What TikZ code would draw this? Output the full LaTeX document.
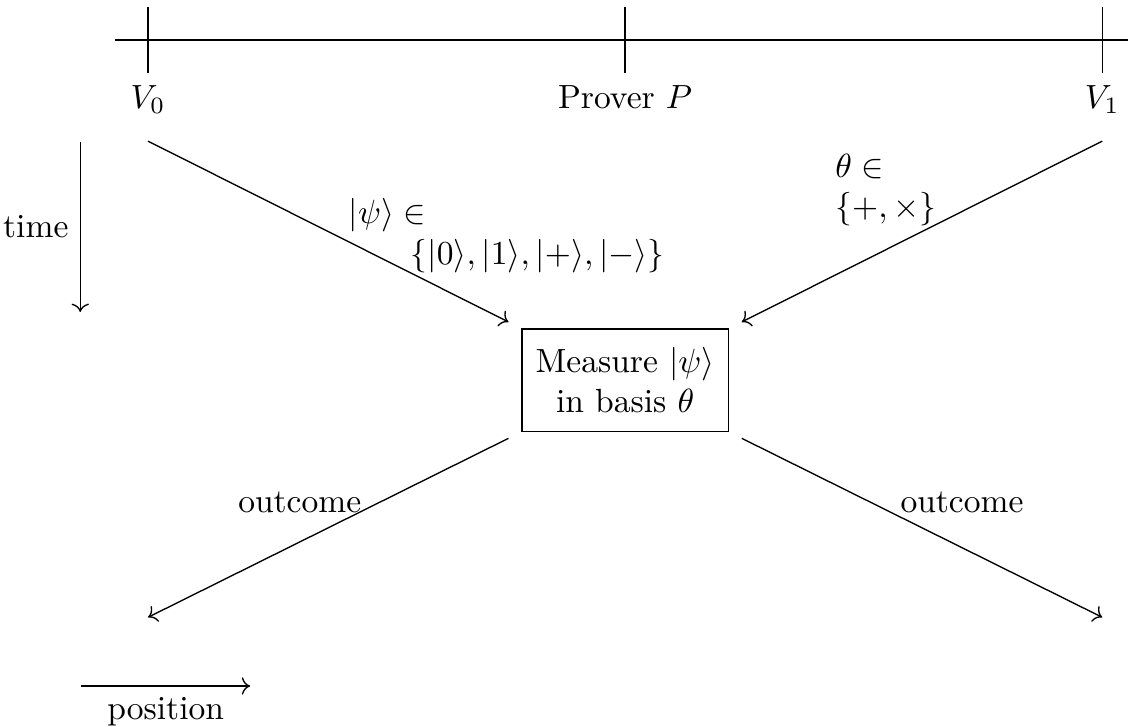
\documentclass[tikz,border=0pt]{standalone}
\usepackage{amsmath}
\usepackage{tikz}
\usetikzlibrary{arrows.meta, positioning, calc}
\tikzset{
  party/.style={anchor=north, font=\normalsize},
  measbox/.style={rectangle, draw, align=center,
    minimum width=2.16cm, minimum height=1.07cm},
  lbl/.style={align=left, anchor=west},
  arrow/.style={->},
  line/.style={thin}
}

\begin{document}
\begin{tikzpicture}
  \useasboundingbox (-1.551,0.419) rectangle (10.27,-7.19);

  % Timeline
  \draw[line] (-0.35,0) -- (10.35,0);
  \foreach \x/\nm in {0/v0, 5/prv, 10/v1} {
    \coordinate (\nm) at (\x,0);
    \draw[line] ($(\nm)+(0,0.35)$) -- ($(\nm)+(0,-0.35)$);
  }

  % Nodes
  \node[party] (lv0) at (0,-0.35) {$V_0$};
  \node[party] (lprv) at (5,-0.35) {Prover $P$};
  \node[party] (lv1) at (10,-0.35) {$V_1$};
  \node[measbox] (meas) at (5,-3.565) {Measure $|\psi\rangle$\\in basis $\theta$};

  \coordinate (s0) at (0,-1.06);
  \coordinate (s1) at (10,-1.06);
  \coordinate (e0) at (0,-6.05);
  \coordinate (e1) at (10,-6.05);

  % Paths
  \draw[arrow, shorten >=4.3pt] (s0) -- (meas.north west);
  \draw[arrow, shorten >=4.3pt] (s1) -- (meas.north east);
  \draw[arrow, shorten <=4.3pt] (meas.south west) -- (e0);
  \draw[arrow, shorten <=4.3pt] (meas.south east) -- (e1);

  % Labels
  \node[lbl] (qlbl) at (1.98,-2.05) {$|\psi\rangle \in$\\\hspace*{0.65cm}$\{|0\rangle, |1\rangle, |+\rangle, |-\rangle\}$};
  \node[lbl] (blbl) at (7.08,-1.57) {$\theta \in$\\$\{+, \times\}$};
  \node (out0) at (1.59,-4.85) {outcome};
  \node (out1) at (8.53,-4.85) {outcome};

  % Axes
  \coordinate (t0) at (-0.71,-1.07);
  \coordinate (t1) at (-0.71,-2.85);
  \draw[arrow] (t0) -- (t1) node[midway, left] {time};
  \coordinate (p0) at (-0.70,-6.77);
  \coordinate (p1) at (1.07,-6.77);
  \draw[arrow] (p0) -- (p1) node[midway, below] {position};
\end{tikzpicture}
\end{document}
